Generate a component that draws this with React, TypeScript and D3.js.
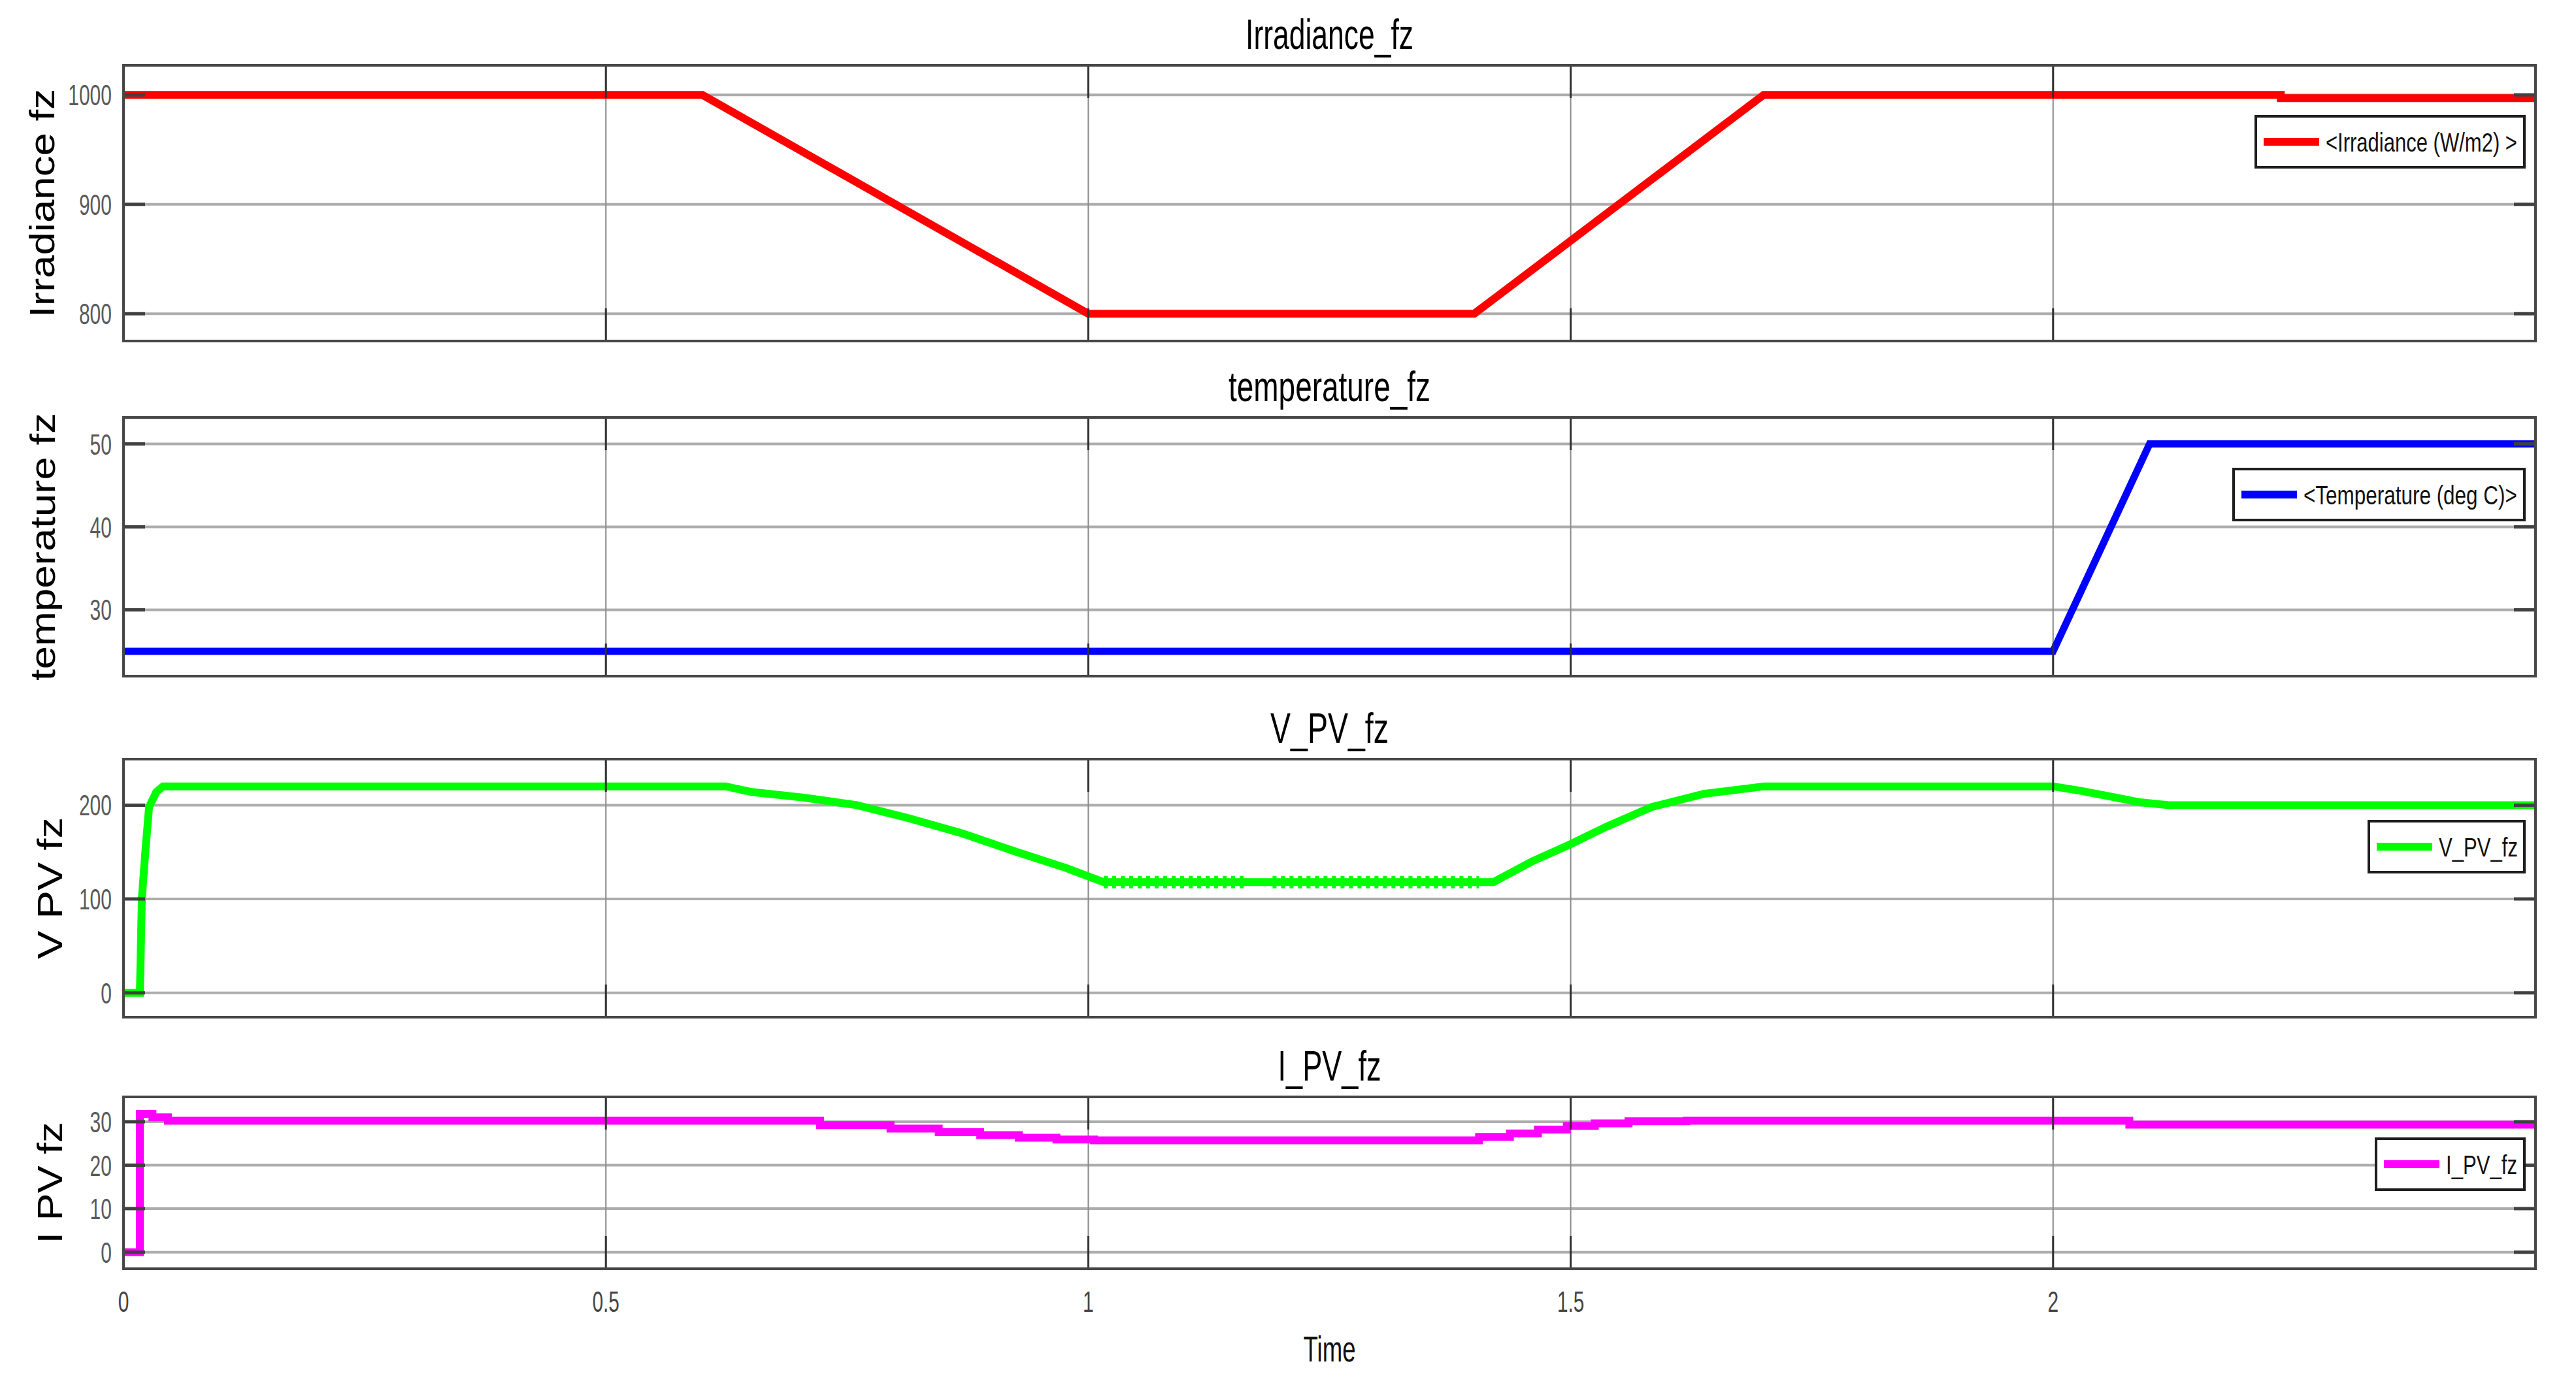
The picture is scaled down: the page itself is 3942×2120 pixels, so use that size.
import React from "react";
import * as d3 from "d3";

// ---------- data ----------
const timeTicks = [0, 0.5, 1, 1.5, 2];
const timeTickLabels = ["0", "0.5", "1", "1.5", "2"];

const irrTime = [0, 0.6, 1.0, 1.4, 1.7, 2.236, 2.236, 2.5];
const irrValue = [1000, 1000, 800, 800, 1000, 1000, 997, 997];
const irrTicks = [800, 900, 1000];

const tempTime = [0, 2.0, 2.1, 2.5];
const tempValue = [25, 25, 50, 50];
const tempTicks = [30, 40, 50];

const vpvTime = [0, 0.017, 0.019, 0.0226, 0.0265, 0.034, 0.041, 0.624, 0.651, 0.705, 0.76, 0.814, 0.869, 0.923, 0.977, 1.008, 1.016, 1.164, 1.191, 1.42, 1.46, 1.499, 1.537, 1.584, 1.638, 1.701, 2.0, 2.03, 2.06, 2.09, 2.12, 2.5];
const vpvValue = [0, 0, 100, 150, 198, 214, 220, 220, 214, 208, 200, 186, 170, 151, 133, 121, 118, 118, 118, 118, 140, 158, 177, 198, 212, 220, 220, 215, 209, 203, 200, 200];
const vpvRippleStart = [1.016, 1.191];
const vpvRippleEnd = [1.164, 1.405];
const vpvRippleLevel = [118, 118];
const vpvTicks = [0, 100, 200];

const ipvTime = [0, 0.017, 0.03, 0.046, 0.722, 0.795, 0.845, 0.888, 0.928, 0.967, 1.006, 1.405, 1.437, 1.466, 1.496, 1.525, 1.56, 1.62, 2.079, 2.5];
const ipvValue = [0, 31.8, 31.0, 30.2, 29.2, 28.4, 27.6, 26.9, 26.3, 25.9, 25.7, 26.5, 27.3, 28.2, 29.0, 29.6, 30.1, 30.2, 29.3, 29.3];
const ipvTicks = [0, 10, 20, 30];

// ---------- layout ----------
const W = 3942;
const H = 2120;
const X0 = 189;
const X1 = 3880;
const FONT_NAME = "Liberation Sans";
const FONT = "'Liberation Sans', Arial, Helvetica, sans-serif";

const x = d3.scaleLinear().domain([0, 2.5]).range([X0, X1]);

let measureCtx: CanvasRenderingContext2D | null = null;
function measure(text: string, size: number): number {
  if (typeof document === "undefined") return text.length * size * 0.55;
  if (!measureCtx) {
    const c = document.createElement("canvas");
    measureCtx = c.getContext("2d");
  }
  if (!measureCtx) return text.length * size * 0.55;
  measureCtx.font = `${size}px '${FONT_NAME}', Arial, sans-serif`;
  return measureCtx.measureText(text).width || text.length * size * 0.55;
}

// text squeezed/stretched horizontally (along its baseline) to a target length
function FitText({
  x: tx,
  y: ty,
  text,
  size,
  len,
  anchor = "start",
  fill = "#000",
  rotate = 0,
}: {
  x: number;
  y: number;
  text: string;
  size: number;
  len: number;
  anchor?: "start" | "middle" | "end";
  fill?: string;
  rotate?: number;
}) {
  const nat = measure(text, size);
  const sx = len / nat;
  return (
    <text
      transform={`translate(${tx},${ty}) rotate(${rotate}) scale(${sx},1)`}
      fontFamily={FONT}
      fontSize={size}
      fill={fill}
      textAnchor={anchor}
    >
      {text}
    </text>
  );
}

type Panel = {
  title: string;
  titleLen: number;
  ylabel: string;
  ylabelLen: number;
  ylabelX: number;
  top: number;
  bottom: number;
  domain: [number, number];
  ticks: number[];
  times: number[];
  values: number[];
  color: string;
  width: number;
  step: boolean;
  legend: string;
  legendLen: number;
  legendW: number;
  legendTop: number;
};

const panels: Panel[] = [
  { title: "Irradiance_fz", titleLen: 257, ylabel: "Irradiance fz", ylabelLen: 350, ylabelX: 83, top: 100, bottom: 522, domain: [775, 1027], ticks: irrTicks, times: irrTime, values: irrValue, color: "#ff0000", width: 12, step: false, legend: "<Irradiance (W/m2) >", legendLen: 293, legendW: 411, legendTop: 78 },
  { title: "temperature_fz", titleLen: 309, ylabel: "temperature fz", ylabelLen: 410, ylabelX: 84, top: 639, bottom: 1035, domain: [22, 53.2], ticks: tempTicks, times: tempTime, values: tempValue, color: "#0000ff", width: 11, step: false, legend: "<Temperature (deg C)>", legendLen: 327, legendW: 445, legendTop: 79 },
  { title: "V_PV_fz", titleLen: 181, ylabel: "V PV fz", ylabelLen: 217, ylabelX: 95, top: 1162, bottom: 1557, domain: [-26, 249], ticks: vpvTicks, times: vpvTime, values: vpvValue, color: "#00ff00", width: 12, step: false, legend: "V_PV_fz", legendLen: 121, legendW: 238, legendTop: 95 },
  { title: "I_PV_fz", titleLen: 158, ylabel: "I PV fz", ylabelLen: 186, ylabelX: 95, top: 1679, bottom: 1942, domain: [-3.8, 35.7], ticks: ipvTicks, times: ipvTime, values: ipvValue, color: "#ff00ff", width: 12, step: true, legend: "I_PV_fz", legendLen: 109, legendW: 227, legendTop: 64 },
];

const digitW = 16.7;
function tickLen(s: string) {
  let l = 0;
  for (const c of s) l += c === "." ? 8 : digitW;
  return l;
}

function PanelView({ p, idx, last }: { p: Panel; idx: number; last: boolean }) {
  const y = d3.scaleLinear().domain(p.domain).range([p.bottom, p.top]);
  const pts: [number, number][] = p.times.map((t, i) => [t, p.values[i]]);
  const line = d3
    .line<[number, number]>()
    .x((d) => x(d[0]))
    .y((d) => y(d[1]))
    .curve(p.step ? d3.curveStepAfter : d3.curveLinear);
  const clipId = `clip${idx}`;
  const cx = (X0 + X1) / 2;
  const cy = (p.top + p.bottom) / 2;
  const lgX = X1 - 17 - p.legendW;
  const lgY = p.top + p.legendTop;
  const lgH = 78;
  return (
    <g>
      <defs>
        <clipPath id={clipId}>
          <rect x={X0} y={p.top} width={X1 - X0} height={p.bottom - p.top} />
        </clipPath>
      </defs>
      <rect x={X0} y={p.top} width={X1 - X0} height={p.bottom - p.top} fill="#ffffff" />
      {p.ticks.map((v) => (
        <line key={"h" + v} x1={X0} x2={X1} y1={y(v)} y2={y(v)} stroke="#adadad" strokeWidth={4} />
      ))}
      {timeTicks.slice(1).map((t) => (
        <line key={"v" + t} x1={x(t)} x2={x(t)} y1={p.top} y2={p.bottom} stroke="#8a8a8a" strokeWidth={2} />
      ))}
      <g clipPath={`url(#${clipId})`}>
        <path d={line(pts) || ""} fill="none" stroke={p.color} strokeWidth={p.width} strokeLinejoin="miter" />
        {idx === 2 &&
          vpvRippleStart.map((s, i) => (
            <path
              key={"r" + i}
              d={line([[s, vpvRippleLevel[i]], [vpvRippleEnd[i], vpvRippleLevel[i]]]) || ""}
              fill="none"
              stroke={p.color}
              strokeWidth={19}
              strokeDasharray="6 7"
            />
          ))}
      </g>
      {p.ticks.map((v) => (
        <g key={"t" + v}>
          <line x1={X0} x2={X0 + 33} y1={y(v)} y2={y(v)} stroke="#404040" strokeWidth={5} />
          <line x1={X1 - 33} x2={X1} y1={y(v)} y2={y(v)} stroke="#404040" strokeWidth={5} />
          <FitText x={171} y={y(v) + 16} text={String(v)} size={44} len={tickLen(String(v))} anchor="end" fill="#5a5a5a" />
        </g>
      ))}
      {timeTicks.slice(1).map((t) => (
        <g key={"xt" + t}>
          <line x1={x(t)} x2={x(t)} y1={p.top} y2={p.top + 50} stroke="#303030" strokeWidth={3} />
          <line x1={x(t)} x2={x(t)} y1={p.bottom - 50} y2={p.bottom} stroke="#303030" strokeWidth={3} />
        </g>
      ))}
      <rect x={lgX} y={lgY} width={p.legendW} height={lgH} fill="#ffffff" stroke="#1e1e1e" strokeWidth={4} />
      <line x1={lgX + 12} x2={lgX + 97} y1={lgY + lgH / 2} y2={lgY + lgH / 2} stroke={p.color} strokeWidth={12} />
      <FitText x={lgX + 107} y={lgY + lgH / 2 + 15} text={p.legend} size={40} len={p.legendLen} fill="#111" />
      <rect x={X0} y={p.top} width={X1 - X0} height={p.bottom - p.top} fill="none" stroke="#474747" strokeWidth={4} />
      <FitText x={cx} y={p.top - 25} text={p.title} size={65} len={p.titleLen} anchor="middle" fill="#000" />
      <FitText x={p.ylabelX} y={cy} text={p.ylabel} size={53} len={p.ylabelLen} anchor="middle" fill="#000" rotate={-90} />
      {last &&
        timeTicks.map((t, i) => (
          <FitText
            key={"xl" + t}
            x={x(t)}
            y={2008}
            text={timeTickLabels[i]}
            size={44}
            len={tickLen(timeTickLabels[i])}
            anchor="middle"
            fill="#444"
          />
        ))}
    </g>
  );
}

export default function App() {
  return (
    <svg
      width={W}
      height={H}
      viewBox={`0 0 ${W} ${H}`}
      style={{ position: "absolute", left: 0, top: 0, background: "#ffffff" }}
    >
      <rect x={0} y={0} width={W} height={H} fill="#ffffff" />
      {panels.map((p, i) => (
        <PanelView key={p.title} p={p} idx={i} last={i === panels.length - 1} />
      ))}
      <FitText x={(X0 + X1) / 2} y={2084} text="Time" size={56} len={80} anchor="middle" fill="#111" />
    </svg>
  );
}
